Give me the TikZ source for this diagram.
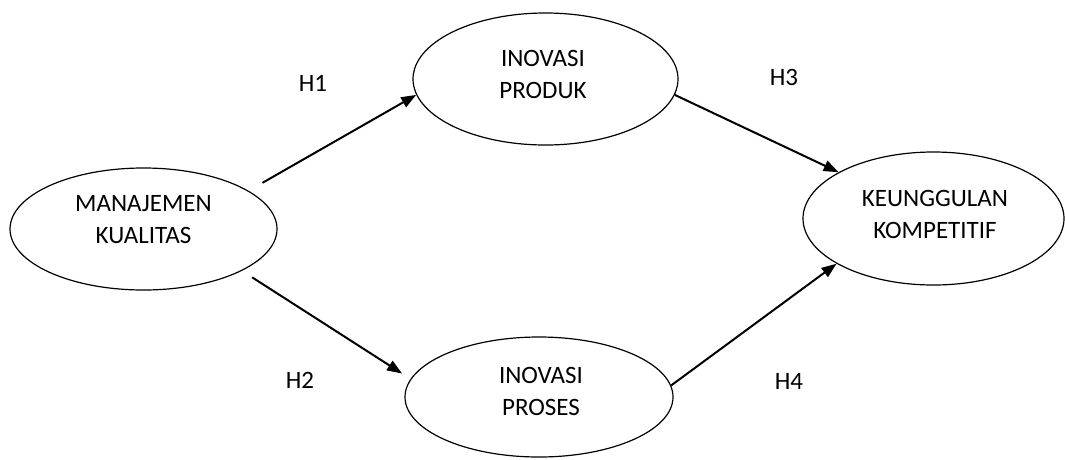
\documentclass[tikz,border=0pt]{standalone}
\usepackage{fontspec}
\setmainfont{Carlito}
\usetikzlibrary{arrows.meta,shapes.geometric}
\begin{document}
\begin{tikzpicture}[x=1pt,y=-1pt,
  construct/.style={ellipse,draw=black,line width=1.2pt,inner sep=0pt},
  caption/.style={align=center,font=\fontsize{25}{32}\selectfont,inner sep=0pt},
  hyp/.style={font=\fontsize{25}{32}\selectfont,inner sep=0pt},
  path/.style={line width=2pt,-{Triangle[length=15pt,width=11pt]}}]
\useasboundingbox (0,0) rectangle (1065,459);

% latent constructs
\node[construct,minimum width=267pt,minimum height=122pt] (mk) at (143.5,229) {};
\node[construct,minimum width=265pt,minimum height=132pt] (ip) at (545.5,79) {};
\node[construct,minimum width=268pt,minimum height=120pt] (ps) at (539,397) {};
\node[construct,minimum width=261pt,minimum height=133pt] (kk) at (933.5,218.5) {};

\node[caption] (mkt) at (143.5,220) {MANAJEMEN\\KUALITAS};
\node[caption] (ipt) at (543,74) {INOVASI\\PRODUK};
\node[caption] (pst) at (541,391) {INOVASI\\PROSES};
\node[caption] (kkt) at (935,214) {KEUNGGULAN\\KOMPETITIF};

% hypothesised paths
\draw[path,shorten <=16pt] (mk.20) -- (ip.187);
\draw[path,shorten <=12pt,shorten >=10pt] (mk.-23) -- (ps.172);
\draw[path] (ip.-7) -- (kk.154);
\draw[path] (ps.5) -- (kk.205);

\node[hyp] (h1) at (313,83) {H1};
\node[hyp] (h2) at (300,380) {H2};
\node[hyp] (h3) at (784,77) {H3};
\node[hyp] (h4) at (789,381) {H4};
\end{tikzpicture}
\end{document}
